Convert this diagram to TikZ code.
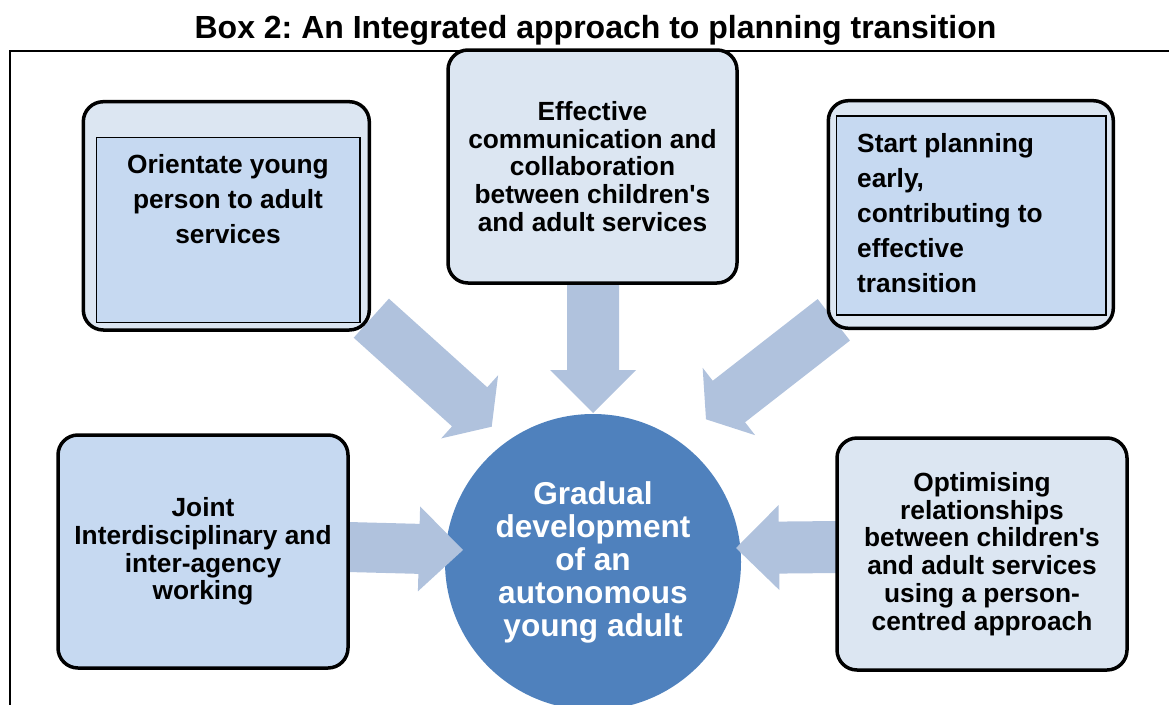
\documentclass[tikz,border=0pt]{standalone}
\usepackage{fontspec}
\setmainfont{Liberation Sans}
\usetikzlibrary{calc}
\frenchspacing
\definecolor{boxlight}{RGB}{220,230,242}
\definecolor{boxmid}{RGB}{198,217,241}
\definecolor{arrowfill}{RGB}{176,194,221}
\definecolor{circfill}{RGB}{79,129,189}
\newcommand\blockarrow[5]{%
  \coordinate (hb) at ($(#2)!#5!(#1)$);
  \fill[arrowfill] ($(#1)!#3!90:(#2)$) -- ($(hb)!#3!90:(#2)$) -- ($(hb)!#4!90:(#2)$) -- (#2)
    -- ($(hb)!#4!-90:(#2)$) -- ($(hb)!#3!-90:(#2)$) -- ($(#1)!#3!-90:(#2)$) -- cycle;}
\tikzset{
  rbox/.style={draw=black, line width=3.5pt, rounded corners=20pt, inner sep=0pt},
  inrect/.style={draw=black, line width=1.5pt, fill=boxmid, inner sep=0pt},
  boxtext/.style={font=\bfseries\fontsize{26.3}{27.7}\selectfont, align=center},
  looset/.style={font=\bfseries\fontsize{26.3}{35}\selectfont, inner sep=0pt},
  frameline/.style={draw=black, line width=2.2pt},
}
\begin{document}
\begin{tikzpicture}[x=1pt,y=-1pt]
\useasboundingbox (0,0) rectangle (1169,704);
% title
\node[font=\bfseries\fontsize{32}{36}\selectfont, anchor=base, inner sep=0pt] (title) at (595.5,38.5)
  {Box 2: An Integrated approach to planning transition};
% frame
\draw[frameline] (10,710) -- (10,51) -- (1170,51);
% centre circle
\node[circle, fill=circfill, minimum size=296pt, inner sep=0pt, text=white,
  font=\bfseries\fontsize{31.6}{33}\selectfont, align=center] (circ) at (593,562)
  {Gradual\\development\\of an\\autonomous\\young adult};
% arrow end points
\coordinate (sT) at (593,283);    \coordinate (tT) at (593,413);
\coordinate (sTL) at (371.3,318.2); \coordinate (tTL) at (491.7,426.7);
\coordinate (sTR) at (833.8,319.8); \coordinate (tTR) at (706,419.3);
\coordinate (sL) at (348,547);    \coordinate (tL) at (463,550);
\coordinate (sR) at (837,547);    \coordinate (tR) at (736,548);
\blockarrow{sT}{tT}{26pt}{43pt}{43pt}
\blockarrow{sTL}{tTL}{26.3pt}{42.5pt}{29.7pt}
\blockarrow{sTR}{tTR}{26.3pt}{42.7pt}{29pt}
\blockarrow{sL}{tL}{25pt}{42.5pt}{44pt}
\blockarrow{sR}{tR}{26pt}{42.5pt}{43pt}
% top-left box
\node[rbox, fill=boxlight, minimum width=286pt, minimum height=228.3pt] (tlbox) at (226.3,215.85) {};
\node[inrect, minimum width=263.3pt, minimum height=185pt] (tlin) at (228.35,230.2) {};
\node[looset, align=center] (tltext) at (228,199) {Orientate young\\person to adult\\services};
% top-centre box
\node[rbox, fill=boxlight, minimum width=289pt, minimum height=233pt, boxtext] (tcbox) at (592.5,166.5)
  {Effective\\communication and\\collaboration\\between children\textquotesingle s\\and adult services};
% top-right box
\node[rbox, fill=boxlight, minimum width=285pt, minimum height=227.6pt] (trbox) at (970.8,214.5) {};
\node[inrect, minimum width=269.3pt, minimum height=199pt] (trin) at (971.35,215.5) {};
\node[looset, align=left, anchor=west] (trtext) at (857,213.5)
  {Start planning\\early,\\contributing to\\effective\\transition};
% bottom-left box
\node[rbox, fill=boxmid, minimum width=290pt, minimum height=233pt, boxtext] (blbox) at (203,551.5)
  {Joint\\Interdisciplinary and\\inter-agency\\working};
% bottom-right box
\node[rbox, fill=boxlight, minimum width=290pt, minimum height=232pt, boxtext] (brbox) at (982,554)
  {Optimising\\relationships\\between children\textquotesingle s\\and adult services\\using a person-\\centred approach};
\end{tikzpicture}
\end{document}
